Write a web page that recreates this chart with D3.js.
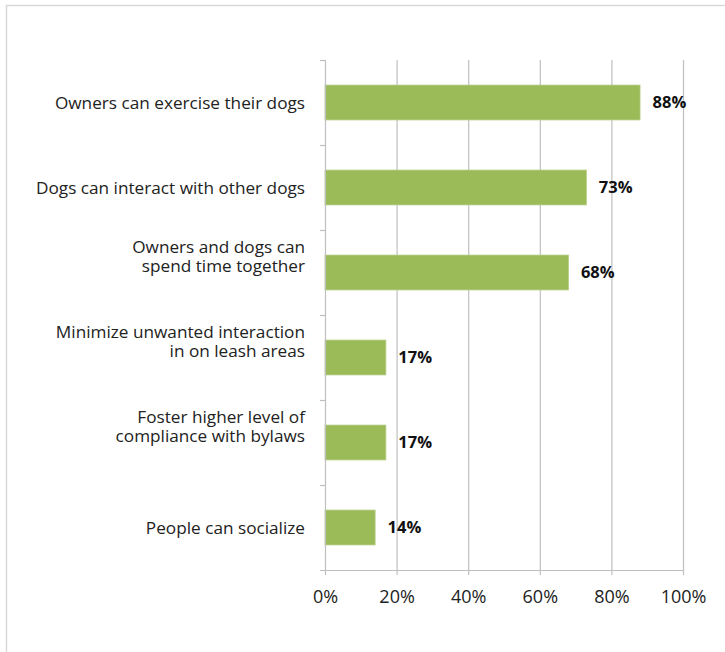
<!DOCTYPE html>
<html><head><meta charset="utf-8">
<script src="https://cdn.jsdelivr.net/npm/d3@7"></script>
<style>body{margin:0;background:#fff}svg{display:block}</style>
</head><body>
<script>
const categories = [
  ["Owners can exercise their dogs"],
  ["Dogs can interact with other dogs"],
  ["Owners and dogs can", "spend time together"],
  ["Minimize unwanted interaction", "in on leash areas"],
  ["Foster higher level of", "compliance with bylaws"],
  ["People can socialize"]
];
const values = [88, 73, 68, 17, 17, 14];
const tickValues = [0, 20, 40, 60, 80, 100];

(function() {
const W = 725, H = 652;
const svg = d3.select("body").append("svg").attr("width", W).attr("height", H);
svg.append("rect").attr("x", 6.5).attr("y", 5.5).attr("width", 760).attr("height", 720)
  .attr("fill", "#fff").attr("stroke", "#d9d9d9").attr("stroke-width", 1.5);

const mLeft = 325, mRight = 683, mTop = 60, mBottom = 570;
const x = d3.scaleLinear().domain([0, 100]).range([mLeft, mRight]);
const idx = d3.range(categories.length);
const y = d3.scaleBand().domain(idx).range([mTop, mBottom]).paddingInner(0.59).paddingOuter(0.295);
const yb = d3.scaleBand().domain(idx).range([mTop, mBottom]);

const font = "'Open Sans', sans-serif";
const grid = "#bfbfbf";

svg.append("g").selectAll("line").data(tickValues.slice(1)).join("line")
  .attr("x1", d => x(d) + 0.5).attr("x2", d => x(d) + 0.5)
  .attr("y1", mTop).attr("y2", mBottom)
  .attr("stroke", grid).attr("stroke-width", 1.2);

svg.append("g").selectAll("rect").data(values).join("rect")
  .attr("x", x(0)).attr("y", (d, i) => y(i))
  .attr("width", d => x(d) - x(0)).attr("height", y.bandwidth())
  .attr("fill", "#9bbb59").attr("stroke", "#b3cc80").attr("stroke-width", 0.8);

const xAxis = d3.axisBottom(x).tickValues(tickValues).tickFormat(d => d + "%").tickSize(5).tickSizeOuter(0);
const gx = svg.append("g").attr("transform", `translate(0,${mBottom})`).call(xAxis);
gx.select(".domain").attr("stroke", grid).attr("stroke-width", 1.2).attr("d", `M${mLeft - 5},0.5H${mRight + 0.5}`);
gx.selectAll(".tick line").attr("stroke", grid).attr("stroke-width", 1.2);
gx.selectAll(".tick text").attr("font-family", font).attr("font-size", 18).attr("fill", "#222")
  .attr("y", 20).attr("dy", "0.71em");

svg.append("line").attr("x1", mLeft + 0.5).attr("x2", mLeft + 0.5).attr("y1", mTop).attr("y2", mBottom)
  .attr("stroke", grid).attr("stroke-width", 1.2);
const bounds = idx.map(i => yb(i));
svg.append("g").selectAll("line").data(bounds).join("line")
  .attr("x1", mLeft - 5).attr("x2", mLeft).attr("y1", d => d + 0.5).attr("y2", d => d + 0.5)
  .attr("stroke", grid).attr("stroke-width", 1.2);

const lab = svg.append("g").selectAll("text").data(categories).join("text")
  .attr("text-anchor", "end").attr("font-family", font).attr("font-size", 17.2).attr("fill", "#222")
  .attr("transform", (d, i) => `translate(305,${yb(i) + yb.bandwidth() / 2})`);
lab.each(function(lines) {
  const t = d3.select(this);
  const n = lines.length, lh = 19;
  const shift = n > 1 ? -6.5 : 0;
  lines.forEach((l, k) => {
    t.append("tspan").attr("x", 0).attr("y", (k - (n - 1)) * lh + shift).attr("dy", "0.35em").text(l);
  });
});

svg.append("g").selectAll("text").data(values).join("text")
  .attr("x", d => x(d) + 12.5).attr("y", (d, i) => y(i) + y.bandwidth() / 2).attr("dy", "0.35em")
  .attr("font-family", font).attr("font-size", 16.5).attr("font-weight", "bold").attr("fill", "#111")
  .text(d => d + "%");
})();
</script>
</body></html>
